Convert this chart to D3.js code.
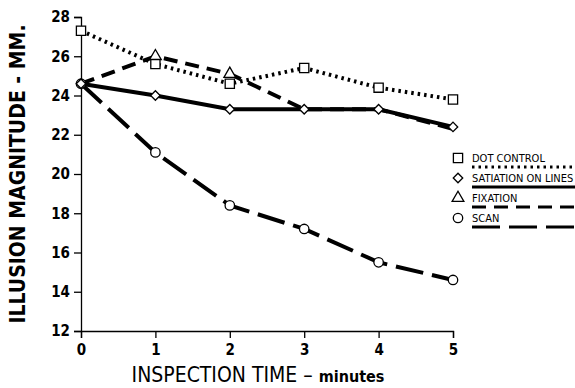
<!DOCTYPE html>
<html>
<head>
<meta charset="utf-8">
<script src="https://d3js.org/d3.v7.min.js"></script>
<style>
  body { margin: 0; background: #fff; }
  text { font-family: "DejaVu Sans Condensed", sans-serif; fill: #000; }
</style>
</head>
<body>
<div id="chart"></div>
<script>
// inspection time in minutes
var minutes = [0, 1, 2, 3, 4, 5];
var yTicks = [12, 14, 16, 18, 20, 22, 24, 26, 28];

// illusion magnitude (mm) for each condition
var dotControl = [27.3, 25.6, 24.6, 25.4, 24.4, 23.8];
var satiation = [24.6, 24.0, 23.3, 23.3, 23.3, 22.4];
var fixation = [24.6, 26.0, 25.1, 23.3, 23.3, 22.3];
var scan = [24.6, 21.1, 18.4, 17.2, 15.5, 14.6];

var seriesNames = ["DOT CONTROL", "SATIATION ON LINES", "FIXATION", "SCAN"];

var width = 575, height = 388;
var margin = {left: 81, right: 122, top: 17, bottom: 57};

var svg = d3.select("#chart").append("svg")
    .attr("width", width)
    .attr("height", height);

var x = d3.scaleLinear().domain([0, 5]).range([margin.left, width - margin.right]);
var y = d3.scaleLinear().domain([12, 28]).range([height - margin.bottom, margin.top]);

// axes
var xAxis = svg.append("g")
    .attr("transform", "translate(0," + y(12) + ")")
    .call(d3.axisBottom(x).tickValues(minutes).tickSize(7).tickPadding(6).tickFormat(d3.format("d")));
var yAxis = svg.append("g")
    .attr("transform", "translate(" + x(0) + ",0)")
    .call(d3.axisLeft(y).tickValues(yTicks).tickSize(7).tickPadding(4).tickFormat(d3.format("d")));

[xAxis, yAxis].forEach(function(a) {
  a.select(".domain").attr("stroke-width", 1.3);
  a.selectAll(".tick line").attr("stroke-width", 1.3);
  a.selectAll("text").style("font-size", "15px").style("font-weight", "bold")
    .style("font-family", "'DejaVu Sans Condensed', sans-serif");
});

// axis titles
svg.append("text")
    .attr("x", 258).attr("y", 382)
    .attr("text-anchor", "middle")
    .style("font-size", "21px")
    .html("INSPECTION TIME &#8211; <tspan style='font-size:16px;font-weight:bold'>minutes</tspan>");

svg.append("text")
    .attr("transform", "translate(25,174) rotate(-90)")
    .attr("text-anchor", "middle")
    .style("font-size", "21px")
    .style("font-weight", "bold")
    .text("ILLUSION MAGNITUDE - MM.");

var line = d3.line()
    .x(function(d, i) { return x(minutes[i]); })
    .y(function(d) { return y(d); });

var styles = [
  {data: dotControl, dash: "2.5,4", symbol: d3.symbolSquare, size: 85, rot: 0},
  {data: satiation, dash: null, symbol: d3.symbolSquare, size: 45, rot: 45},
  {data: fixation, dash: "14,8", symbol: d3.symbolTriangle, size: 60, rot: 0},
  {data: scan, dash: "28,9", symbol: d3.symbolCircle, size: 70, rot: 0}
];

styles.forEach(function(s) {
  svg.append("path")
    .datum(s.data)
    .attr("d", line)
    .attr("fill", "none")
    .attr("stroke", "#000")
    .attr("stroke-width", 4)
    .attr("stroke-dasharray", s.dash);
});

// markers; fixation points that coincide with satiation are hidden under the diamond
var drawOrder = [2, 0, 3, 1];
drawOrder.forEach(function(k) {
  var s = styles[k];
  var pts = s.data.map(function(v, i) { return {v: v, i: i}; })
    .filter(function(p) { return !(k === 2 && Math.abs(p.v - satiation[p.i]) < 0.15); });
  svg.selectAll(null)
    .data(pts)
    .enter().append("path")
    .attr("transform", function(p) {
      return "translate(" + x(minutes[p.i]) + "," + y(p.v) + ") rotate(" + s.rot + ")";
    })
    .attr("d", d3.symbol().type(s.symbol).size(s.size))
    .attr("fill", "#fff")
    .attr("stroke", "#000")
    .attr("stroke-width", 1.3);
});

// legend
var legend = svg.append("g");
seriesNames.forEach(function(name, i) {
  var s = styles[i];
  var ly = 158 + i * 20;
  legend.append("path")
    .attr("transform", "translate(458," + ly + ") rotate(" + s.rot + ")")
    .attr("d", d3.symbol().type(s.symbol).size(s.size))
    .attr("fill", "#fff")
    .attr("stroke", "#000")
    .attr("stroke-width", 1.3);
  legend.append("text")
    .attr("x", 472).attr("y", ly + 4)
    .style("font-size", "11px")
    .text(name);
  legend.append("line")
    .attr("x1", 472).attr("x2", 575)
    .attr("y1", ly + 9).attr("y2", ly + 9)
    .attr("stroke", "#000")
    .attr("stroke-width", 3)
    .attr("stroke-dasharray", s.dash);
});
</script>
</body>
</html>
